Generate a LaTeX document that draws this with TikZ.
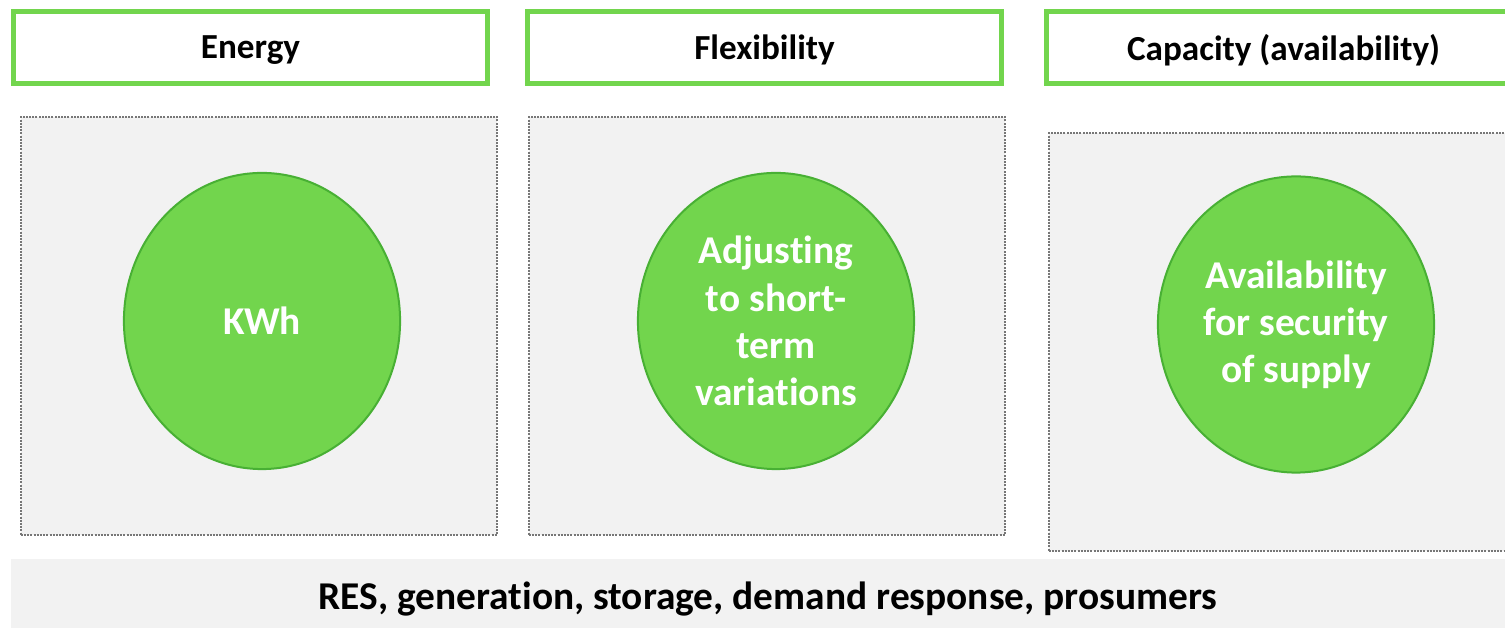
\documentclass[tikz,border=0pt]{standalone}
\usepackage{fontspec}
\setmainfont{Carlito}[Ligatures=NoCommon]
\usetikzlibrary{shapes.geometric}
\definecolor{leaf}{HTML}{72D54D}
\definecolor{leafdark}{HTML}{48B034}
\definecolor{panegray}{HTML}{F2F2F2}
\definecolor{dotgray}{HTML}{777777}
\begin{document}
\begin{tikzpicture}[x=0.01cm,y=-0.01cm,
  font=\bfseries\fontsize{11.2}{13.4}\selectfont,
  head/.style={rectangle, draw=leaf, line width=0.5mm, fill=white,
    minimum width=4.74cm, minimum height=0.71cm},
  title/.style={font=\bfseries\fontsize{10}{12}\selectfont},
  pane/.style={rectangle, draw=dotgray, fill=panegray, line width=0.2mm,
    dash pattern=on 0.2mm off 0.12mm, minimum width=4.76cm, minimum height=4.18cm},
  blob/.style={ellipse, draw=leafdark, fill=leaf, line width=0.2mm, text=white,
    align=center, inner sep=0pt, minimum width=2.76cm, minimum height=2.96cm}]
\useasboundingbox (0,0) rectangle (1505,628);
\clip (0,0) rectangle (1505,628);
% column headers
\node[head] (E) at (250.5,47.5) {};
\node[head] (F) at (764.5,47.5) {};
\node[head] (C) at (1283.5,47.5) {};
\node[title] (Et) at (250.5,50) {Energy};
\node[title] (Ft) at (764.5,50) {Flexibility};
\node[title] (Ct) at (1283.5,50) {Capacity (availability)};
% grey panels
\node[pane] (PE) at (259,326) {};
\node[pane] (PF) at (767,326) {};
\node[pane] (PC) at (1287,342) {};
% circles
\node[blob] (KE) at (262,321) {KWh};
\node[blob] (KF) at (776,321) {Adjusting\\to short-\\term\\variations};
\node[blob] (KC) at (1296,324.5) {Availability\\for security\\of supply};
% bottom bar
\node[rectangle, fill=panegray, minimum width=15.14cm, minimum height=0.81cm]
  (R) at (768,599.5) {RES, generation, storage, demand response, prosumers};
\end{tikzpicture}
\end{document}
